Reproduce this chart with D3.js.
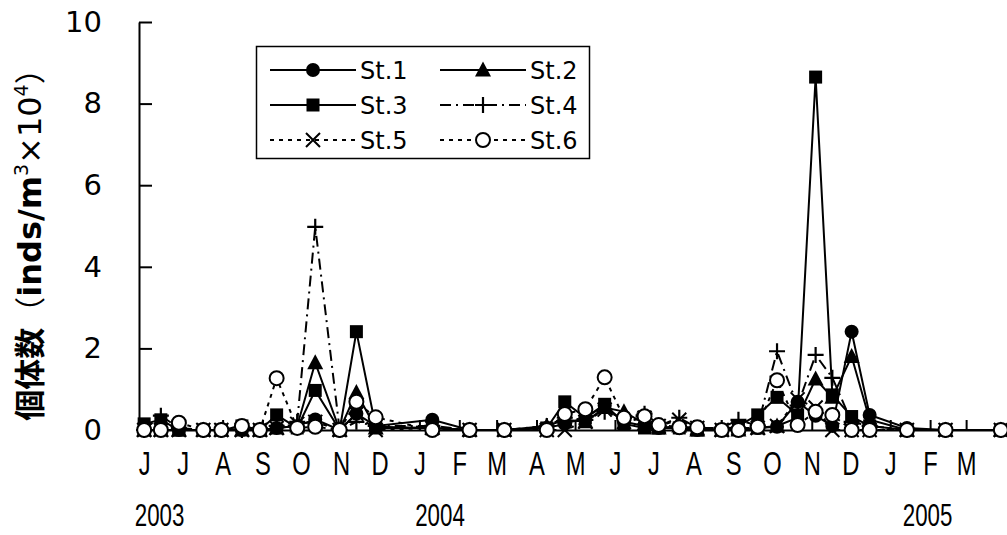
<!DOCTYPE html>
<html>
<head>
<meta charset="utf-8">
<script src="https://cdn.jsdelivr.net/npm/d3@7"></script>
<style>
  body { margin: 0; background: #fff; }
  svg { display: block; }
  .tick text { fill: #000; }
</style>
</head>
<body>
<div class="chart"></div>
<script>
// sampling dates
const dates = [
  "2003-06-01", "2003-06-14", "2003-06-28", "2003-07-17", "2003-07-31", "2003-08-16",
  "2003-08-30", "2003-09-12", "2003-09-28", "2003-10-12", "2003-10-31", "2003-11-13",
  "2003-11-28", "2004-01-11", "2004-02-09", "2004-03-07", "2004-04-09", "2004-04-23",
  "2004-05-09", "2004-05-24", "2004-06-08", "2004-06-24", "2004-07-05", "2004-07-21",
  "2004-08-04", "2004-08-23", "2004-09-05", "2004-09-20", "2004-10-05", "2004-10-21",
  "2004-11-04", "2004-11-17", "2004-12-02", "2004-12-16", "2005-01-14", "2005-02-13",
  "2005-03-28"
];

const st1 = [0, 0, 0, 0, 0, 0, 0, 0.05, 0.1, 0.26, 0, 0.4, 0.1, 0.25, 0, 0, 0.05, 0.15, 0.3, 0.6,
  0.2, 0.1, 0.05, 0.05, 0, 0, 0, 0.05, 0.08, 0.69, 0.35, 0.1, 2.41, 0.37, 0.05, 0, 0];
const st2 = [0, 0, 0, 0, 0, 0, 0, 0.05, 0.1, 1.65, 0, 0.92, 0.05, 0.05, 0, 0, 0.1, 0.25, 0.2, 0.55,
  0.45, 0.15, 0.05, 0.1, 0, 0, 0, 0.05, 0.1, 0.3, 1.25, 0.8, 1.8, 0.25, 0, 0, 0];
const st3 = [0.15, 0.25, 0, 0, 0, 0.1, 0, 0.37, 0.05, 0.97, 0, 2.41, 0.08, 0.05, 0, 0, 0.05, 0.69, 0.3, 0.63,
  0.15, 0.05, 0.05, 0.05, 0, 0, 0.1, 0.37, 0.8, 0.37, 8.65, 0.86, 0.33, 0.1, 0, 0, 0];
const st4 = [0, 0.35, 0.05, 0, 0, 0, 0, 0.1, 0.2, 4.98, 0, 0.2, 0.1, 0.1, 0, 0, 0.1, 0.3, 0.25, 0.45,
  0.3, 0.4, 0.1, 0.3, 0.05, 0.05, 0.25, 0.1, 1.93, 0.6, 1.84, 1.28, 0.2, 0.1, 0, 0, 0];
const st5 = [0, 0, 0, 0, 0, 0, 0, 0.05, 0.15, 0.2, 0, 0.4, 0, 0.05, 0, 0, 0, 0, 0.2, 0.5,
  0.2, 0.3, 0.1, 0.25, 0.05, 0, 0.05, 0.05, 0.1, 0.75, 0.55, 0, 0, 0, 0, 0, 0];
const st6 = [0, 0, 0.18, 0, 0, 0.1, 0, 1.27, 0.05, 0.08, 0, 0.69, 0.31, 0, 0, 0, 0, 0.39, 0.51, 1.29,
  0.3, 0.34, 0.12, 0.07, 0.07, 0, 0, 0.08, 1.22, 0.12, 0.45, 0.37, 0, 0, 0, 0, 0];

const seriesNames = ["St.1", "St.2", "St.3", "St.4", "St.5", "St.6"];
const monthLabels = ["J", "J", "A", "S", "O", "N", "D", "J", "F", "M", "A", "M",
  "J", "J", "A", "S", "O", "N", "D", "J", "F", "M"];
const yearLabels = [["2003", "2003-06-13"], ["2004", "2004-01-17"], ["2005", "2005-01-30"]];
const yTicks = [0, 2, 4, 6, 8, 10];

const parse = d3.timeParse("%Y-%m-%d");
const W = 1007, H = 535;

const svg = d3.select(".chart").append("svg")
  .attr("width", W)
  .attr("height", H);

const x = d3.scaleTime()
  .domain([new Date(2003, 4, 28), new Date(2005, 3, 1)])
  .range([139, 1006]);
const y = d3.scaleLinear()
  .domain([0, 10])
  .range([430, 22]);

// x axis, ticks point inward
const months = d3.timeMonth.range(new Date(2003, 5, 1), new Date(2005, 3, 1));
const xAxis = svg.append("g")
  .attr("transform", `translate(0,${y(0)})`)
  .call(d3.axisBottom(x)
    .tickValues(months)
    .tickSizeInner(-10)
    .tickSizeOuter(0)
    .tickPadding(22)
    .tickFormat((d, i) => monthLabels[i]));
xAxis.selectAll("text")
  .attr("transform", "scale(0.72,1)")
  .style("font-family", "'Liberation Sans', sans-serif")
  .style("font-size", "33px");
xAxis.selectAll("line, path").attr("stroke", "#000").attr("stroke-width", 2);

// y axis
const yAxis = svg.append("g")
  .attr("transform", `translate(${x.range()[0]},0)`)
  .call(d3.axisLeft(y)
    .tickValues(yTicks)
    .tickSizeInner(-13)
    .tickSizeOuter(0)
    .tickPadding(37));
yAxis.selectAll("text")
  .style("font-family", "'DejaVu Sans', sans-serif")
  .style("font-size", "29px");
yAxis.selectAll("line, path").attr("stroke", "#000").attr("stroke-width", 2);

// year labels
svg.append("g").selectAll("text")
  .data(yearLabels)
  .enter().append("text")
  .attr("transform", d => `translate(${x(parse(d[1]))},526) scale(0.72,1)`)
  .attr("text-anchor", "middle")
  .style("font-family", "'Liberation Sans', sans-serif")
  .style("font-size", "31px")
  .text(d => d[0]);

// y title
const title = svg.append("text")
  .attr("transform", "translate(41,237) rotate(-90)")
  .attr("text-anchor", "middle")
  .style("font-size", "32px");
title.append("tspan").style("font-family", "'Noto Sans CJK JP'").style("font-weight", "bold").style("font-size", "31px").text("個体数");
title.append("tspan").style("font-family", "'Noto Sans CJK JP'").style("font-size", "31px").text("（");
title.append("tspan").style("font-family", "'DejaVu Sans'").style("font-weight", "bold").text("inds/m");
title.append("tspan").style("font-family", "'DejaVu Sans'").style("font-size", "19px").attr("dy", -13).text("3");
title.append("tspan").style("font-family", "'DejaVu Sans'").attr("dy", 13).text("×10");
title.append("tspan").style("font-family", "'DejaVu Sans'").style("font-size", "19px").attr("dy", -13).text("4");
title.append("tspan").style("font-family", "'Noto Sans CJK JP'").style("font-size", "31px").attr("dy", 13).text("）");

// series styles
const styles = [
  { dash: null, symbol: "circle" },
  { dash: null, symbol: "triangle" },
  { dash: null, symbol: "square" },
  { dash: "11,5,2,5", symbol: "plus" },
  { dash: "4,5", symbol: "cross" },
  { dash: "4,5", symbol: "open" }
];
const allSeries = [st1, st2, st3, st4, st5, st6];

function drawMarker(g, type, cx, cy) {
  if (type === "circle") {
    g.append("circle").attr("cx", cx).attr("cy", cy).attr("r", 7).attr("fill", "#000");
  } else if (type === "triangle") {
    g.append("path").attr("d", `M${cx},${cy - 8.5}L${cx + 8},${cy + 6.5}L${cx - 8},${cy + 6.5}Z`).attr("fill", "#000");
  } else if (type === "square") {
    g.append("rect").attr("x", cx - 6.5).attr("y", cy - 6.5).attr("width", 13).attr("height", 13).attr("fill", "#000");
  } else if (type === "plus") {
    g.append("path").attr("d", `M${cx - 8},${cy}H${cx + 8}M${cx},${cy - 8}V${cy + 8}`)
      .attr("stroke", "#000").attr("stroke-width", 2.2);
  } else if (type === "cross") {
    g.append("path").attr("d", `M${cx - 7},${cy - 7}L${cx + 7},${cy + 7}M${cx + 7},${cy - 7}L${cx - 7},${cy + 7}`)
      .attr("stroke", "#000").attr("stroke-width", 2);
  } else {
    g.append("circle").attr("cx", cx).attr("cy", cy).attr("r", 7)
      .attr("fill", "#fff").attr("stroke", "#000").attr("stroke-width", 2);
  }
}

const line = d3.line()
  .x(d => x(d.date))
  .y(d => y(d.value));

allSeries.forEach((vals, k) => {
  const pts = vals.map((v, i) => ({ date: parse(dates[i]), value: v }));
  const g = svg.append("g");
  g.append("path")
    .datum(pts)
    .attr("d", line)
    .attr("fill", "none")
    .attr("stroke", "#000")
    .attr("stroke-width", 2)
    .attr("stroke-dasharray", styles[k].dash);
  pts.forEach(p => drawMarker(g, styles[k].symbol, x(p.date), y(p.value)));
});

// legend
const legend = svg.append("g");
legend.append("rect")
  .attr("x", 256.5).attr("y", 46.5)
  .attr("width", 333).attr("height", 112)
  .attr("fill", "#fff").attr("stroke", "#000").attr("stroke-width", 1.5);

seriesNames.forEach((name, k) => {
  const col = k % 2, row = Math.floor(k / 2);
  const lx = 270 + col * 170, ly = 70 + row * 35;
  const g = legend.append("g");
  g.append("line")
    .attr("x1", lx).attr("x2", lx + 86)
    .attr("y1", ly).attr("y2", ly)
    .attr("stroke", "#000").attr("stroke-width", 2)
    .attr("stroke-dasharray", styles[k].dash);
  drawMarker(g, styles[k].symbol, lx + 43, ly);
  g.append("text")
    .attr("x", lx + 90).attr("y", ly)
    .attr("dy", "0.36em")
    .style("font-family", "'DejaVu Sans', sans-serif")
    .style("font-size", "24px")
    .text(name);
});
</script>
</body>
</html>
